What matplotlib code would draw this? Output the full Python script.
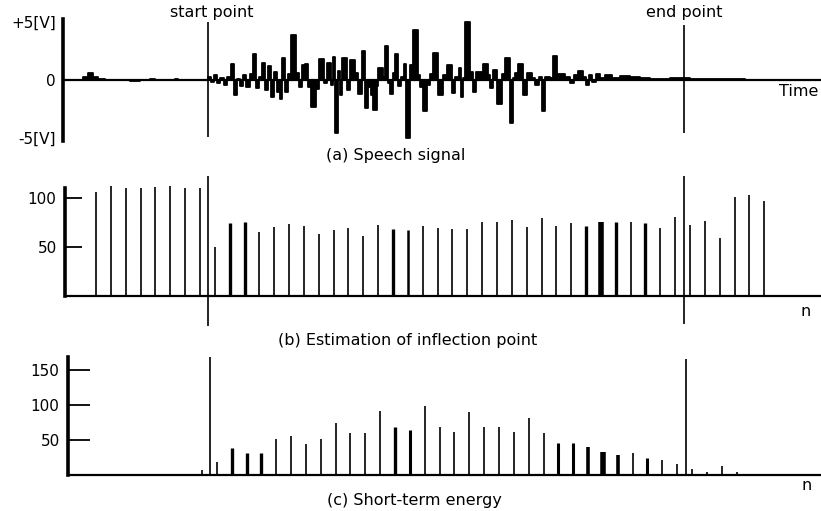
import numpy as np
import matplotlib
matplotlib.use('Agg')
import matplotlib.pyplot as plt

# ------------------------------------------------------------------
# Data
# ------------------------------------------------------------------
# (a) speech signal, step points: time (samples) and amplitude (V)
speech_t = [-33, -13, -8, -3, 2, 9, 34, 44, 54, 59, 79, 82,
            112, 115, 118, 121, 124, 128, 131, 135, 138, 141, 144, 147,
            150, 154, 157, 160, 163, 166, 169, 172, 175, 178, 181, 184,
            186, 189, 192, 195, 200, 203, 206, 209, 212, 215, 220, 223,
            228, 231, 235, 237, 239, 242, 244, 246, 251, 254, 259, 262,
            266, 269, 272, 275, 277, 281, 282, 287, 289, 292, 294, 297,
            299, 302, 305, 308, 310, 314, 317, 322, 324, 327, 331, 334,
            337, 342, 347, 351, 356, 359, 363, 365, 367, 369, 374, 377,
            380, 387, 392, 394, 397, 401, 406, 409, 414, 417, 419, 422,
            427, 431, 436, 439, 443, 446, 449, 454, 457, 461, 469, 474,
            478, 482, 487, 490, 493, 496, 500, 504, 509, 516, 524, 534,
            544, 554, 574, 594, 639, 649, 725]
speech_v = [0, 0.3, 0.6, 0.3, 0.1, 0, -0.1, 0, 0.1, 0, 0.1, 0,
            0.3, -0.2, 0.4, -0.3, 0.2, -0.4, 0.3, 1.4, -1.3, 0.1, -0.5, 0.4,
            -0.6, 0.5, 2.2, -0.7, 0.3, 1.5, -0.9, 1.2, -1.5, 0.7, -1.0, -1.6,
            1.9, -1.0, 0.5, 3.9, 0.6, -0.6, 1.3, 1.4, -0.6, -2.3, -0.8, 1.8,
            -0.3, 1.5, -0.4, 2.0, -4.6, 0.8, -1.3, 1.9, -0.9, 1.7, 0.6, -1.2,
            2.5, -2.4, -0.6, -1.3, -2.6, -0.5, 1.0, 0.3, 2.9, -0.3, -1.2, 0.6,
            2.2, -0.5, 0.3, 1.4, -5.0, 1.3, 4.3, 0.4, -0.6, -2.7, -0.4, 0.5,
            2.3, -1.3, 0.4, 1.3, -1.1, 0.3, 1.0, -1.5, 0.2, 5.0, 0.7, -1.0,
            0.7, 1.4, 0.4, -0.7, 0.9, -2.1, 0.5, 1.9, -3.7, 0.2, 0.6, 1.4,
            -1.3, 0.6, 0.2, -0.4, 0.3, -2.7, 0.3, 0.2, 2.1, 0.5, 0.3, -0.3,
            0.4, 0.8, 0.3, -0.4, 0.4, -0.2, 0.5, 0.2, 0.4, 0.2, 0.35, 0.25,
            0.15, 0.1, 0.15, 0.1, 0.05, 0, 0]

# frame index n (one value per analysis frame)
frames = np.arange(46)
inflection = [106, 112, 110, 110, 111, 112, 110, 110, 50, 74, 76, 65, 70,
              73, 71, 63, 67, 69, 61, 72, 68, 67, 71, 69, 68, 68, 75, 75,
              78, 70, 80, 71, 74, 71, 75, 76, 75, 74, 69, 81, 72, 77, 59,
              101, 103, 97]
energy = [0, 0, 0, 0, 0, 0, 0, 7, 19, 38, 31, 32, 51, 56, 45, 51, 75, 60,
          60, 92, 68, 64, 98, 68, 62, 90, 69, 68, 61, 81, 60, 46, 46, 40,
          33, 29, 31, 24, 22, 16, 8, 5, 13, 5, 0, 0]

start_point = 112   # samples
end_point = 588

# ------------------------------------------------------------------
# Style / layout
# ------------------------------------------------------------------
hop = 14.85          # samples per frame
lw_b = {9: 2.4, 10: 2.4, 20: 2.4, 21: 1.8, 33: 2.4, 34: 4.0, 35: 2.4, 37: 2.4}
lw_c = {9: 2.4, 10: 2.4, 11: 2.4, 20: 2.4, 21: 2.2, 31: 2.2, 32: 2.2,
        33: 2.6, 34: 4.0, 35: 2.6, 37: 2.2}

W, H = 821, 511
FS = 11.5      # captions
FT = 11        # tick labels
plt.rcParams['font.family'] = ['DejaVu Sans']

fig = plt.figure(figsize=(W / 100, H / 100), dpi=100)


def px_axes(top, bottom):
    return fig.add_axes([0, 1 - bottom / H, 1, (bottom - top) / H])


def clean(ax, spine_x, ybounds, xmax):
    for s in ['top', 'right']:
        ax.spines[s].set_visible(False)
    ax.spines['left'].set_position(('data', spine_x))
    ax.spines['left'].set_bounds(*ybounds)
    ax.spines['left'].set_linewidth(2.6)
    ax.spines['bottom'].set_position(('data', 0))
    ax.spines['bottom'].set_bounds(spine_x, xmax)
    ax.spines['bottom'].set_linewidth(1.6)
    ax.set_xticks([])
    ax.patch.set_visible(False)


# ---------------- (a) speech signal ----------------
axa = px_axes(18.5, 141.5)
axa.set_xlim(-96, 725)
axa.set_ylim(-5.3, 5.3)
clean(axa, -33, (-5.3, 5.3), 725)
axa.fill_between(speech_t, speech_v, 0, step='post', color='black', lw=0)
axa.step(speech_t, speech_v, where='post', color='black', lw=1.3)
axa.vlines(start_point, -4.9, 5.0, color='black', lw=1.2)
axa.vlines(end_point, -4.6, 4.7, color='black', lw=1.2)
axa.set_yticks([5, 0, -5])
axa.set_yticklabels(['+5[V]', '0', '-5[V]'], fontsize=FT)
axa.tick_params(axis='y', length=0, pad=5)

# ---------------- (b) inflection point ----------------
axb = px_axes(173.5, 330.3)
axb.set_xlim(-96, 725)
axb.set_ylim(-35, 125)
clean(axb, -31, (0, 110), 725)
for k, v in zip(frames, inflection):
    axb.vlines(k * hop, 0, v, color='black', lw=lw_b.get(k, 1.2))
axb.vlines(start_point, -31, 122, color='black', lw=1.2)
axb.vlines(end_point, -29, 122, color='black', lw=1.2)
axb.set_yticks([50, 100])
axb.set_yticklabels(['50', '100'], fontsize=FT)
axb.tick_params(axis='y', direction='in', length=12, width=1.3, pad=6)

# ---------------- (c) short-term energy ----------------
axc = px_axes(354.6, 478.5)
axc.set_xlim(-98, 723)
axc.set_ylim(-5, 172)
clean(axc, -30, (0, 168), 723)
for k, v in zip(frames, energy):
    if v > 0:
        axc.vlines(k * hop, 0, v, color='black', lw=lw_c.get(k, 1.2))
axc.vlines([start_point, end_point], 0, [168, 166], color='black', lw=1.2)
axc.set_yticks([50, 100, 150])
axc.set_yticklabels(['50', '100', '150'], fontsize=FT)
axc.tick_params(axis='y', direction='in', length=16, width=1.3, pad=6)

# ---------------- labels ----------------
def ftext(x, y, s, ha='center'):
    fig.text(x / W, 1 - y / H, s, ha=ha, va='center', fontsize=FS)


ftext(212, 13, 'start point')
ftext(684, 13, 'end point')
ftext(818, 92, 'Time', ha='right')
ftext(396, 155, '(a) Speech signal')
ftext(408, 340, '(b) Estimation of inflection point')
ftext(806, 312, 'n')
ftext(414, 500, '(c) Short-term energy')
ftext(807, 486, 'n')

fig.savefig('out.png', dpi=100)
